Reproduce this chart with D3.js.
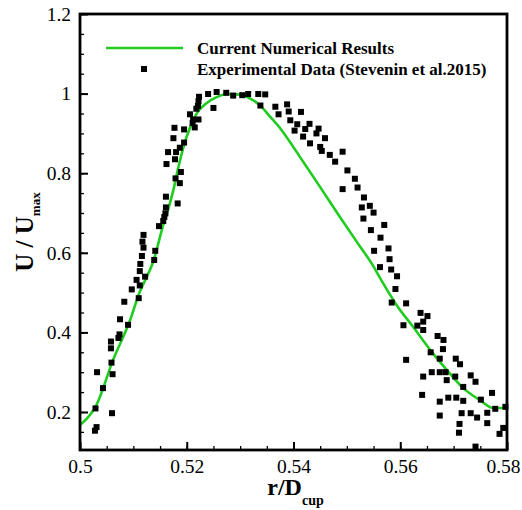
<!DOCTYPE html>
<html>
<head>
<meta charset="utf-8">
<script src="https://cdn.jsdelivr.net/npm/d3@7"></script>
<style>
  body { margin: 0; background: #fff; }
  svg { display: block; font-family: "Liberation Serif", "Times New Roman", serif; }
</style>
</head>
<body>
<div id="chart"></div>
<script>
// numerical solution (green line)
var simR = [0.5, 0.5031, 0.5062, 0.5094, 0.5112, 0.5125, 0.5137, 0.5156, 0.5165, 0.5175,
  0.5184, 0.5194, 0.5206, 0.5219, 0.5237, 0.5256, 0.5275, 0.5294, 0.5309, 0.5318,
  0.5337, 0.5356, 0.5375, 0.5393, 0.5412, 0.545, 0.5487, 0.5525, 0.5547, 0.5562,
  0.5593, 0.5624, 0.5656, 0.5687, 0.5718, 0.5749, 0.5774, 0.5796, 0.58];
var simU = [0.167, 0.218, 0.331, 0.431, 0.502, 0.539, 0.577, 0.670, 0.708, 0.758,
  0.813, 0.866, 0.914, 0.951, 0.976, 0.991, 0.999, 0.998, 0.994, 0.988,
  0.971, 0.942, 0.913, 0.879, 0.841, 0.765, 0.690, 0.615, 0.572, 0.537,
  0.469, 0.414, 0.356, 0.306, 0.260, 0.230, 0.210, 0.210, 0.210];

// experiment (Stevenin et al. 2015)
var expR = [0.5028, 0.5031, 0.5029, 0.5032, 0.5043, 0.5058, 0.5058, 0.5059, 0.5061, 0.5060,
  0.5072, 0.5074, 0.5075, 0.5090, 0.5083, 0.5097, 0.5106, 0.5110, 0.5112, 0.5112,
  0.5113, 0.5116, 0.5117, 0.5119, 0.5119, 0.5122, 0.5139, 0.5141, 0.5148, 0.5156,
  0.5158, 0.5160, 0.5161, 0.5183, 0.5161, 0.5187, 0.5179, 0.5189, 0.5162, 0.5178,
  0.5165, 0.5180, 0.5187, 0.5195, 0.5175, 0.5195, 0.5177, 0.5211, 0.5215, 0.5212,
  0.5206, 0.5222, 0.5218, 0.5221, 0.5222, 0.5223, 0.5240, 0.5250, 0.5256, 0.5274,
  0.5287, 0.5304, 0.5315, 0.5334, 0.5338, 0.5347, 0.5366, 0.5372, 0.5388, 0.5391,
  0.5414, 0.5394, 0.5407, 0.5402, 0.5422, 0.5430, 0.5418, 0.5431, 0.5447, 0.5443,
  0.5459, 0.5450, 0.5453, 0.5468, 0.5478, 0.5492, 0.5501, 0.5515, 0.5520, 0.5492,
  0.5532, 0.5528, 0.5543, 0.5550, 0.5531, 0.5545, 0.5570, 0.5563, 0.5551, 0.5578,
  0.5580, 0.5562, 0.5583, 0.5594, 0.5591, 0.5584, 0.5611, 0.5638, 0.5651, 0.5643,
  0.5632, 0.5606, 0.5643, 0.5670, 0.5681, 0.5680, 0.5657, 0.5611, 0.5674, 0.5704,
  0.5712, 0.5659, 0.5674, 0.5685, 0.5643, 0.5703, 0.5732, 0.5687, 0.5718, 0.5741,
  0.5641, 0.5674, 0.5690, 0.5705, 0.5718, 0.5751, 0.5772, 0.5778, 0.5797, 0.5674,
  0.5715, 0.5732, 0.5744, 0.5763, 0.5711, 0.5763, 0.5710, 0.5786, 0.5793, 0.5741];
var expU = [0.153, 0.162, 0.209, 0.300, 0.260, 0.377, 0.360, 0.324, 0.295, 0.197,
  0.386, 0.395, 0.433, 0.419, 0.477, 0.508, 0.532, 0.486, 0.518, 0.554,
  0.572, 0.592, 0.628, 0.645, 0.613, 0.540, 0.582, 0.605, 0.667, 0.680,
  0.690, 0.699, 0.714, 0.724, 0.741, 0.775, 0.787, 0.803, 0.823, 0.835,
  0.853, 0.853, 0.864, 0.877, 0.888, 0.910, 0.914, 0.926, 0.915, 0.935,
  0.948, 0.935, 0.962, 0.969, 0.981, 0.992, 0.999, 0.964, 1.004, 1.002,
  0.995, 0.996, 0.999, 0.999, 0.970, 0.998, 0.967, 0.948, 0.973, 0.955,
  0.954, 0.933, 0.923, 0.907, 0.911, 0.924, 0.892, 0.875, 0.912, 0.900,
  0.888, 0.866, 0.856, 0.846, 0.829, 0.854, 0.807, 0.786, 0.764, 0.760,
  0.739, 0.714, 0.718, 0.701, 0.686, 0.657, 0.670, 0.638, 0.605, 0.611,
  0.584, 0.564, 0.558, 0.541, 0.509, 0.475, 0.473, 0.449, 0.441, 0.427,
  0.417, 0.418, 0.406, 0.391, 0.381, 0.358, 0.350, 0.331, 0.334, 0.334,
  0.320, 0.300, 0.300, 0.300, 0.289, 0.289, 0.292, 0.280, 0.263, 0.276,
  0.243, 0.226, 0.236, 0.236, 0.228, 0.231, 0.248, 0.208, 0.213, 0.191,
  0.197, 0.197, 0.186, 0.198, 0.170, 0.172, 0.148, 0.145, 0.160, 0.113];

var xTicks = [0.5, 0.52, 0.54, 0.56, 0.58];
var yTicks = [0.2, 0.4, 0.6, 0.8, 1, 1.2];
var legendLabels = ["Current Numerical Results", "Experimental Data (Stevenin et al.2015)"];

var width = 522, height = 510;
var margin = {top: 14, right: 15, bottom: 60, left: 80};
var w = width - margin.left - margin.right;
var h = height - margin.top - margin.bottom;
var green = "#1fcc1f";
var serif = "'Liberation Serif', 'Times New Roman', serif";

var svg = d3.select("#chart").append("svg")
    .attr("width", width)
    .attr("height", height)
    .attr("font-family", serif);

var g = svg.append("g")
    .attr("transform", "translate(" + margin.left + "," + margin.top + ")");

var x = d3.scaleLinear().domain([0.5, 0.58]).range([0, w]);
var y = d3.scaleLinear().domain([0.1045, 1.2]).range([h, 0]);

// minor ticks
g.append("g")
    .attr("class", "minor")
    .attr("transform", "translate(0," + h + ")")
    .call(d3.axisBottom(x).tickValues(d3.range(0.5, 0.5801, 0.005)).tickSize(-4).tickFormat(""));
g.append("g")
    .attr("class", "minor")
    .call(d3.axisLeft(y).tickValues(d3.range(0.15, 1.2001, 0.05)).tickSize(-4).tickFormat(""));

// major ticks
g.append("g")
    .attr("class", "major")
    .attr("transform", "translate(0," + h + ")")
    .call(d3.axisBottom(x).tickValues(xTicks).tickSize(-8).tickPadding(9).tickFormat(d3.format("")));
g.append("g")
    .attr("class", "major")
    .call(d3.axisLeft(y).tickValues(yTicks).tickSize(-8).tickPadding(9).tickFormat(d3.format("")));

g.selectAll(".minor, .major")
    .attr("font-family", serif)
    .attr("font-size", 19.5);
g.selectAll(".domain").remove();
g.selectAll(".tick line").attr("stroke", "#000").attr("stroke-width", 2);
g.selectAll(".minor .tick line").attr("stroke-width", 1.3);
g.selectAll(".tick text")
    .attr("fill", "#000")
    .style("font-family", serif)
    .style("font-size", "19.5px");
// keep the last x label inside the page, as the original does
g.selectAll(".major .tick text")
    .filter(function(d) { return d === 0.58; })
    .attr("dx", -4);

// line
var line = d3.line()
    .x(function(d) { return x(d[0]); })
    .y(function(d) { return y(d[1]); })
    .curve(d3.curveMonotoneX);

g.append("path")
    .datum(d3.zip(simR, simU))
    .attr("d", line)
    .attr("fill", "none")
    .attr("stroke", green)
    .attr("stroke-width", 2.6);

// points
var sq = 6;
g.selectAll("rect.pt")
    .data(d3.zip(expR, expU))
    .enter().append("rect")
    .attr("class", "pt")
    .attr("x", function(d) { return x(d[0]) - sq / 2; })
    .attr("y", function(d) { return y(d[1]) - sq / 2; })
    .attr("width", sq)
    .attr("height", sq)
    .attr("fill", "#000");

// frame
g.append("rect")
    .attr("width", w)
    .attr("height", h)
    .attr("fill", "none")
    .attr("stroke", "#000")
    .attr("stroke-width", 2.8);

// legend
var leg = svg.append("g").attr("class", "legend");
leg.append("line")
    .attr("x1", 106).attr("x2", 183)
    .attr("y1", 48).attr("y2", 48)
    .attr("stroke", green).attr("stroke-width", 2.6);
leg.append("rect")
    .attr("x", 144 - sq / 2).attr("y", 69 - sq / 2)
    .attr("width", sq).attr("height", sq)
    .attr("fill", "#000");
leg.selectAll("text")
    .data(legendLabels)
    .enter().append("text")
    .attr("x", 197)
    .attr("y", function(d, i) { return 54 + i * 21; })
    .style("font-size", "17px")
    .style("font-weight", "bold")
    .text(function(d) { return d; });

// axis titles
var xt = svg.append("text")
    .attr("x", margin.left + w / 2 + 2)
    .attr("y", 495)
    .attr("text-anchor", "middle")
    .style("font-size", "24px")
    .style("font-weight", "bold");
xt.append("tspan").text("r/D");
xt.append("tspan").attr("dy", 10).style("font-size", "14px").text("cup");

var yt = svg.append("text")
    .attr("transform", "translate(33," + (margin.top + h / 2) + ") rotate(-90)")
    .attr("text-anchor", "middle")
    .style("font-size", "25px")
    .style("font-weight", "bold");
yt.append("tspan").text("U / U");
yt.append("tspan").attr("dy", 7).style("font-size", "13px").text("max");
</script>
</body>
</html>
